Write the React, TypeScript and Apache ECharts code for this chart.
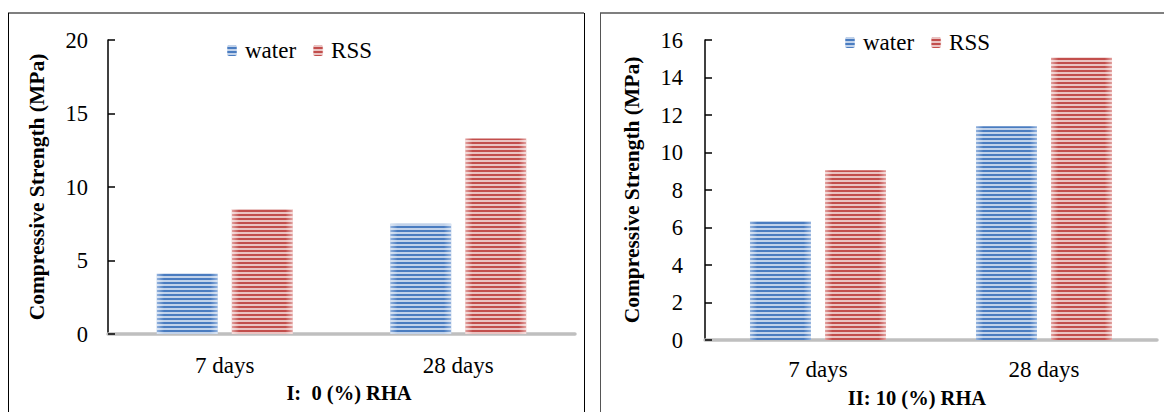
import React, { useEffect, useRef } from "react";
import * as echarts from "echarts";

const categories = ["7 days", "28 days"];
const water0 = [4.1, 7.5];
const rss0 = [8.5, 13.3];
const water10 = [6.35, 11.4];
const rss10 = [9.05, 15.05];
const seriesNames = ["water", "RSS"];
const yAxisName = "Compressive Strength (MPa)";
const panelTitles = ["I:  0 (%) RHA", "II: 10 (%) RHA"];

const FONT = "Liberation Serif";

const grad = (edge: string, mid: string) =>
  new echarts.graphic.LinearGradient(0, 0, 1, 0, [
    { offset: 0, color: edge },
    { offset: 0.12, color: mid },
    { offset: 0.88, color: mid },
    { offset: 1, color: edge },
  ]);

const decal = {
  symbol: "rect",
  symbolSize: 1,
  dashArrayX: [1, 0],
  dashArrayY: [2, 2],
  rotation: 0,
  color: "rgba(255,255,255,0.66)",
};

const blueStyle = () => ({ color: grad("#94b3de", "#4a7cc0"), decal });
const redStyle = () => ({ color: grad("#e3a3a1", "#c24e4c"), decal });

export default function App() {
  const ref = useRef<HTMLDivElement>(null);
  useEffect(() => {
    if (!ref.current) return;
    const chart = echarts.init(ref.current, null, { renderer: "svg" });
    const yAxisCommon = {
      type: "value" as const,
      name: yAxisName,
      nameLocation: "middle" as const,
      nameRotate: 90,
      nameTextStyle: { fontFamily: FONT, fontSize: 21.5, fontWeight: "bold", color: "#000" },
      axisLine: { show: true, lineStyle: { color: "#000", width: 1.5 } },
      axisTick: { show: true, inside: true, length: 7, lineStyle: { color: "#000", width: 1.5 } },
      splitLine: { show: false },
      axisLabel: { fontFamily: FONT, fontSize: 22.5, color: "#000" },
    };
    const xAxisCommon = {
      type: "category" as const,
      data: categories,
      axisLine: { show: true, lineStyle: { color: "#bfbfbf", width: 3.5 } },
      axisTick: { show: false },
      axisLabel: { fontFamily: FONT, fontSize: 23, color: "#000", margin: 18 },
    };
    const barCommon = { type: "bar" as const, barWidth: 61, barGap: "23%" };
    const legendCommon = {
      itemWidth: 10,
      itemHeight: 11,
      itemGap: 17,
      textStyle: { fontFamily: FONT, fontSize: 23, color: "#000", padding: [0, 0, 0, 3] },
    };
    chart.setOption({
      animation: false,
      backgroundColor: "#fff",
      title: [
        {
          text: panelTitles[0],
          left: 344,
          top: 377,
          textAlign: "center",
          textStyle: { fontFamily: FONT, fontSize: 20.5, fontWeight: "bold", color: "#000" },
        },
        {
          text: panelTitles[1],
          left: 912,
          top: 382,
          textAlign: "center",
          textStyle: { fontFamily: FONT, fontSize: 20.5, fontWeight: "bold", color: "#000" },
        },
      ],
      legend: [
        { ...legendCommon, data: seriesNames, left: 222, top: 34 },
        { ...legendCommon, data: seriesNames, left: 840, top: 26 },
      ],
      grid: [
        { left: 108, right: 1164 - 575, top: 40, bottom: 412 - 334 },
        { left: 705, right: 1164 - 1157, top: 40, bottom: 412 - 340 },
      ],
      xAxis: [
        { ...xAxisCommon, gridIndex: 0, axisLabel: { ...xAxisCommon.axisLabel, margin: 20 } },
        { ...xAxisCommon, gridIndex: 1 },
      ],
      yAxis: [
        { ...yAxisCommon, gridIndex: 0, min: 0, max: 20, interval: 5, nameGap: 60, axisLabel: { ...yAxisCommon.axisLabel, margin: 20 } },
        { ...yAxisCommon, gridIndex: 1, min: 0, max: 16, interval: 2, nameGap: 62, axisLabel: { ...yAxisCommon.axisLabel, margin: 22 } },
      ],
      series: [
        { ...barCommon, name: seriesNames[0], xAxisIndex: 0, yAxisIndex: 0, data: water0, itemStyle: blueStyle() },
        { ...barCommon, name: seriesNames[1], xAxisIndex: 0, yAxisIndex: 0, data: rss0, itemStyle: redStyle() },
        { ...barCommon, name: seriesNames[0], xAxisIndex: 1, yAxisIndex: 1, data: water10, itemStyle: blueStyle() },
        { ...barCommon, name: seriesNames[1], xAxisIndex: 1, yAxisIndex: 1, data: rss10, itemStyle: redStyle() },
      ],
      graphic: [
        { type: "line", shape: { x1: 8, y1: 13, x2: 584, y2: 13 }, style: { stroke: "#7f7f7f", lineWidth: 2 } },
        { type: "line", shape: { x1: 8.5, y1: 13, x2: 8.5, y2: 420 }, style: { stroke: "#000", lineWidth: 1 } },
        { type: "line", shape: { x1: 584.5, y1: 13, x2: 584.5, y2: 420 }, style: { stroke: "#000", lineWidth: 1 } },
        { type: "line", shape: { x1: 600, y1: 13, x2: 1170, y2: 13 }, style: { stroke: "#7f7f7f", lineWidth: 2 } },
        { type: "line", shape: { x1: 600.5, y1: 13, x2: 600.5, y2: 420 }, style: { stroke: "#555", lineWidth: 1 } },
      ],
    });
    return () => chart.dispose();
  }, []);
  return (
    <div
      ref={ref}
      style={{ position: "fixed", left: 0, top: 0, width: 1164, height: 412, background: "#fff" }}
    />
  );
}
